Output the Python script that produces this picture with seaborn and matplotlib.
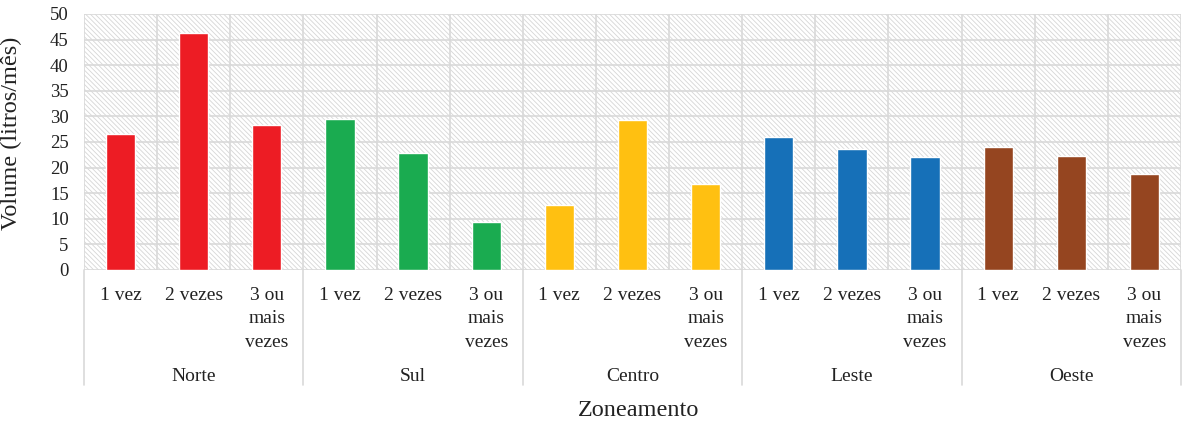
import pandas as pd
import seaborn as sns
import matplotlib.pyplot as plt
import matplotlib.transforms as mtrans
from matplotlib.patches import Rectangle

sns.set_theme(style='white')
plt.rcParams['font.family'] = ['Liberation Serif', 'DejaVu Serif']
plt.rcParams['hatch.linewidth'] = 0.6

# data
zones = ['Norte', 'Sul', 'Centro', 'Leste', 'Oeste']
freqs = ['1 vez', '2 vezes', '3 ou\nmais\nvezes']
norte = [26.5, 46.3, 28.3]
sul = [29.5, 22.9, 9.4]
centro = [12.6, 29.2, 16.7]
leste = [26.0, 23.7, 22.1]
oeste = [24.1, 22.3, 18.7]
colors = ['#ed1c24', '#1aab50', '#ffc011', '#1670b8', '#954520']

rows = []
for zone, vals in zip(zones, [norte, sul, centro, leste, oeste]):
    for f, v in zip(freqs, vals):
        rows.append({'key': f'{zone}|{f}', 'zone': zone, 'freq': f, 'value': v})
df = pd.DataFrame(rows)

fig = plt.figure(figsize=(11.82, 4.21), dpi=100)
ax = fig.add_axes([84 / 1182, 1 - 270 / 421, 1 - 84 / 1182 - 1 / 1182, 256 / 421])

# hatched plot-area background
bg = Rectangle((0, 0), 1, 1, transform=ax.transAxes, facecolor='white',
               edgecolor='#d6d6d6', lw=0, hatch='\\' * 7, zorder=0.1)
ax.add_patch(bg)

sns.barplot(data=df, x='key', y='value', hue='zone', palette=colors,
            dodge=False, width=0.4, saturation=1, legend=False, ax=ax,
            zorder=3)

ax.set_xlim(-0.5, len(df) - 0.5)
ax.set_ylim(0, 50)
ax.set_yticks(range(0, 51, 5))
ax.set_xticks(range(len(df)))
ax.set_xticklabels(df['freq'], fontsize=14, color='#222222',
                   linespacing=1.5, va='top')
ax.tick_params(axis='x', length=0, pad=12)
ax.tick_params(axis='y', length=0, pad=11, labelsize=13.5, labelcolor='#222222')

ax.set_xticks([i - 0.5 for i in range(len(df) + 1)], minor=True)
ax.tick_params(axis='x', which='minor', length=0)
ax.grid(True, which='minor', axis='x', color='#d9d9d9', lw=1.2)
ax.grid(True, which='major', axis='y', color='#d9d9d9', lw=1.2)
ax.set_axisbelow(True)
for s in ax.spines.values():
    s.set_visible(False)

ax.set_xlabel('')
ax.set_ylabel('Volume (litros/mês)', fontsize=17.5, color='#222222')
ax.yaxis.set_label_coords(-0.0565, 0.535)

# group separators and group labels below the axis
trans = mtrans.blended_transform_factory(ax.transData, ax.transAxes)
for i in range(len(zones) + 1):
    x = i * 3 - 0.5
    ax.plot([x, x], [0, -0.45], transform=trans, color='#d9d9d9', lw=1.2,
            clip_on=False)
for i, zone in enumerate(zones):
    ax.text(i * 3 + 1, -0.415, zone, transform=trans, ha='center', va='center',
            fontsize=14, color='#222222')

fig.text(639 / 1182, 1 - 410 / 421, 'Zoneamento', ha='center',
         va='center', fontsize=17.5, color='#222222')

fig.savefig('out.png', dpi=100, facecolor='white')
